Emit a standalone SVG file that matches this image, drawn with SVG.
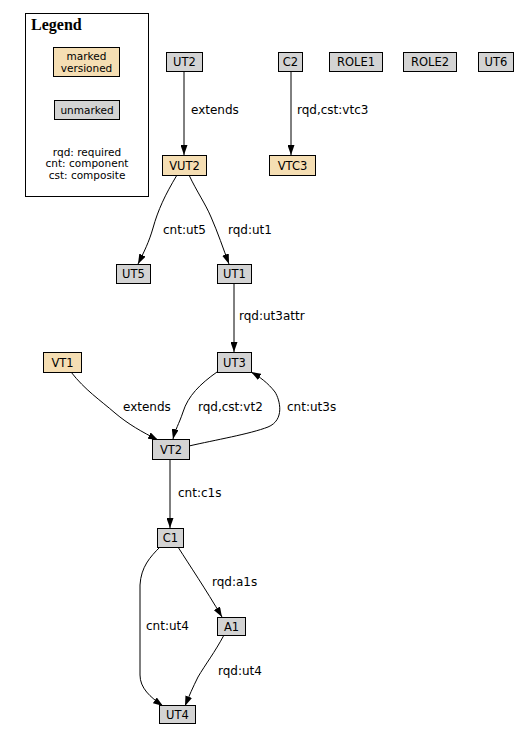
<svg xmlns="http://www.w3.org/2000/svg" width="526" height="738" viewBox="0 0 526 738">
<style>
.bg{fill:#ffffff}
.un{fill:#d3d3d3;stroke:#000;stroke-width:1}
.mk{fill:#f5deb3;stroke:#000;stroke-width:1}
.nt{font-family:"DejaVu Sans",sans-serif;font-size:11.5px;fill:#000;text-anchor:middle}
.el{font-family:"DejaVu Sans",sans-serif;font-size:12px;fill:#000}
.lg{font-family:"DejaVu Sans",sans-serif;font-size:10.5px;fill:#000;text-anchor:middle}
.lt{font-family:"Liberation Serif",serif;font-size:16px;font-weight:bold;fill:#000}
.e{fill:none;stroke:#000;stroke-width:1;marker-end:url(#ah)}
</style>
<defs>
<marker id="ah" viewBox="0 0 10 7" refX="10" refY="3.5" markerWidth="10" markerHeight="7" markerUnits="userSpaceOnUse" orient="auto">
<path d="M0,0 L10,3.5 L0,7 z" fill="#000"/>
</marker>
</defs>
<rect class="bg" x="0" y="0" width="526" height="738"/>
<g id="legend">
<rect x="25.5" y="13.5" width="123" height="183" fill="#fff" stroke="#000"/>
<text class="lt" x="31" y="30">Legend</text>
<rect class="mk" x="53.5" y="47.5" width="66" height="29"/>
<text class="lg" x="86.5" y="59.5">marked</text>
<text class="lg" x="86.5" y="72">versioned</text>
<rect class="un" x="54.5" y="100.5" width="65" height="19"/>
<text class="lg" x="87" y="114">unmarked</text>
<text class="lg" x="87" y="155.5">rqd: required</text>
<text class="lg" x="87" y="167">cnt: component</text>
<text class="lg" x="87" y="178.5">cst: composite</text>
</g>
<g id="edges">
<path id="e-UT2-VUT2" class="e" d="M184,71 L184,155"/>
<path id="e-C2-VTC3" class="e" d="M291,71 L291,155"/>
<path id="e-VUT2-UT5" class="e" d="M177,175 C165,195 158,210 153,228 C149,242 144,252 138,264"/>
<path id="e-VUT2-UT1" class="e" d="M189,175 C197,192 205,203 211,217 C218,233 223,248 229,264"/>
<path id="e-UT1-UT3" class="e" d="M234,283 L234,352"/>
<path id="e-VT1-VT2" class="e" d="M71,372 C85,390 100,400 115,413 C128,424 142,432 158,440"/>
<path id="e-UT3-VT2" class="e" d="M217,372 C200,384 188,396 183,412 C179,424 175,430 173,439"/>
<path id="e-VT2-UT3" class="e" d="M189,446 C215,440 250,434 268,427 C285,420 280,400 275,392 C268,383 260,377 251,372"/>
<path id="e-VT2-C1" class="e" d="M170,459 L170,528"/>
<path id="e-C1-UT4" class="e" d="M160,547 C150,557 141,567 140,585 L140,675 C140,688 150,697 163,706"/>
<path id="e-C1-A1" class="e" d="M178,547 C190,566 205,588 222,617"/>
<path id="e-A1-UT4" class="e" d="M224,635 C215,652 205,665 198,677 C193,687 189,696 185,706"/>
<text class="el" x="191" y="114">extends</text>
<text class="el" x="297" y="114">rqd,cst:vtc3</text>
<text class="el" x="163" y="234">cnt:ut5</text>
<text class="el" x="228" y="234">rqd:ut1</text>
<text class="el" x="239" y="320">rqd:ut3attr</text>
<text class="el" x="123" y="411">extends</text>
<text class="el" x="198" y="411">rqd,cst:vt2</text>
<text class="el" x="287" y="411">cnt:ut3s</text>
<text class="el" x="178" y="497">cnt:c1s</text>
<text class="el" x="212" y="586">rqd:a1s</text>
<text class="el" x="146" y="630">cnt:ut4</text>
<text class="el" x="218" y="675">rqd:ut4</text>
</g>
<g id="UT2"><rect class="un" x="166.5" y="52.5" width="36" height="19"/><text class="nt" x="184.5" y="66">UT2</text></g>
<g id="C2"><rect class="un" x="278.5" y="52.5" width="24" height="19"/><text class="nt" x="290.5" y="66">C2</text></g>
<g id="ROLE1"><rect class="un" x="329.5" y="52.5" width="53" height="19"/><text class="nt" x="356" y="66">ROLE1</text></g>
<g id="ROLE2"><rect class="un" x="403.5" y="52.5" width="53" height="19"/><text class="nt" x="430" y="66">ROLE2</text></g>
<g id="UT6"><rect class="un" x="478.5" y="52.5" width="35" height="19"/><text class="nt" x="496" y="66">UT6</text></g>
<g id="VUT2"><rect class="mk" x="162.5" y="155.5" width="44" height="20"/><text class="nt" x="184.5" y="170">VUT2</text></g>
<g id="VTC3"><rect class="mk" x="269.5" y="155.5" width="46" height="20"/><text class="nt" x="292.5" y="170">VTC3</text></g>
<g id="UT5"><rect class="un" x="116.5" y="264.5" width="34" height="19"/><text class="nt" x="133.5" y="278">UT5</text></g>
<g id="UT1"><rect class="un" x="217.5" y="264.5" width="34" height="19"/><text class="nt" x="234.5" y="278">UT1</text></g>
<g id="VT1"><rect class="mk" x="43.5" y="352.5" width="38" height="20"/><text class="nt" x="62.5" y="367">VT1</text></g>
<g id="UT3"><rect class="un" x="217.5" y="352.5" width="34" height="20"/><text class="nt" x="234.5" y="367">UT3</text></g>
<g id="VT2"><rect class="un" x="152.5" y="439.5" width="37" height="20"/><text class="nt" x="171" y="454">VT2</text></g>
<g id="C1"><rect class="un" x="157.5" y="528.5" width="26" height="19"/><text class="nt" x="170.5" y="542">C1</text></g>
<g id="A1"><rect class="un" x="217.5" y="617.5" width="28" height="18"/><text class="nt" x="231.5" y="631">A1</text></g>
<g id="UT4"><rect class="un" x="159.5" y="705.5" width="36" height="18"/><text class="nt" x="177.5" y="719">UT4</text></g>
</svg>
